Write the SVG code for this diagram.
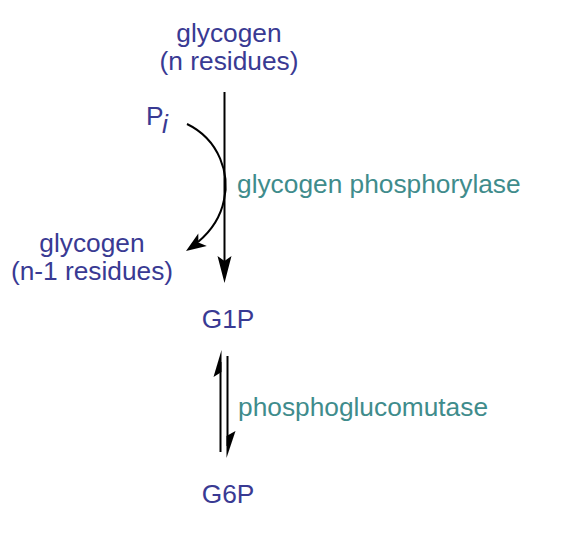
<svg xmlns="http://www.w3.org/2000/svg" width="579" height="552" viewBox="0 0 579 552">
<style>
text{font-family:"Liberation Sans",Arial,sans-serif;font-size:26.3px}
.b{fill:#393a93}
.t{fill:#3f8c8c}
.ln{stroke:#000;stroke-width:2;fill:none}
</style>
<rect width="579" height="552" fill="#fff"/>
<g id="glycogen_n"><text class="b" x="229" y="42" text-anchor="middle">glycogen</text><text class="b" x="229" y="70" text-anchor="middle">(n residues)</text></g>
<g id="pi"><text class="b" x="146" y="125">P</text><text class="b" x="162" y="133" font-size="19" font-style="italic">i</text></g>
<g id="glycogen_n1"><text class="b" x="92" y="252" text-anchor="middle">glycogen</text><text class="b" x="92" y="280" text-anchor="middle">(n-1 residues)</text></g>
<g id="g1p"><text class="b" x="228" y="328" text-anchor="middle">G1P</text></g>
<g id="g6p"><text class="b" x="228" y="503" text-anchor="middle">G6P</text></g>
<g id="enzymes"><text class="t" x="237" y="193">glycogen phosphorylase</text><text class="t" x="238" y="416">phosphoglucomutase</text></g>
<g id="connectors">
<path class="ln" d="M224.5,92 V270"/>
<path d="M217.5,256 L224.5,283 L231.5,256 L224.5,261 Z" fill="#000"/>
<path class="ln" d="M187,124 C220,140 230,175 224,200 C220,220 210,232 198,242"/>
<path d="M186,251 L198.3,233.5 L198.4,242.5 L206.8,245.9 Z" fill="#000"/>
<path class="ln" d="M220.5,362 V452"/>
<path d="M221.5,350 L213.5,377 L221.5,372 Z" fill="#000"/>
<path class="ln" d="M227.5,356 V446"/>
<path d="M226.5,458 L235.5,431 L226.5,436 Z" fill="#000"/>
</g>
</svg>
